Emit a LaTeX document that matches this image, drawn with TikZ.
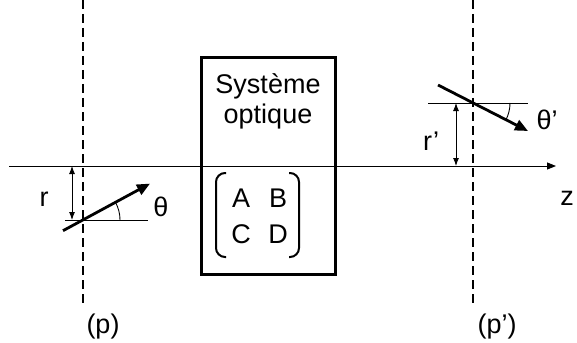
\documentclass[tikz,border=0pt]{standalone}
\usepackage{fontspec}
\setmainfont{Liberation Sans}
\usetikzlibrary{arrows.meta,calc}
\begin{document}
\begin{tikzpicture}[x=1pt,y=-1pt,
  lbl/.style={font=\fontsize{27}{30}\selectfont,inner sep=0pt},
  thin/.style={line width=0.9pt},
  plane/.style={line width=1.8pt,dash pattern=on 9pt off 5pt},
  ray/.style={line width=2.8pt,-{Triangle[length=13pt,width=11pt]}},
  dbl/.style={thin,{Latex[length=8pt,width=6pt]}-{Latex[length=8pt,width=6pt]}},
  paren/.style={line width=2pt,rounded corners=9pt}]
\useasboundingbox (0,0) rectangle (577,342);
% optical axis
\coordinate (a0) at (9,166);
\coordinate (a1) at (556,166);
\draw[thin,-{Triangle[length=9pt,width=7pt]}] (a0) -- (a1);
\node[lbl] (z) at (567,198) {z};
% planes
\coordinate (p0) at (83,0);
\coordinate (p1) at (83,306);
\coordinate (q0) at (473,0);
\coordinate (q1) at (473,306);
\draw[plane] (p0) -- (p1);
\draw[plane] (q0) -- (q1);
\node[lbl] (pl) at (103,327) {(p)};
\node[lbl] (ql) at (497,327) {(p')};
% optical system box
\node[draw,line width=3pt,minimum width=134pt,minimum height=217pt,inner sep=0pt] (box) at (268,166) {};
\node[lbl,align=center] (sys) at (268,101) {Système\\optique};
\node[lbl] (A) at (241,198) {A};
\node[lbl] (B) at (278,198) {B};
\node[lbl] (C) at (241,234) {C};
\node[lbl] (D) at (278,234) {D};
\draw[paren] (226,173) -- (216,173) -- (216,257) -- (226,257);
\draw[paren] (289,173) -- (299,173) -- (299,257) -- (289,257);
% input ray
\coordinate (P) at (83,220);
\coordinate (Pr) at (148,220);
\coordinate (Pa) at (72,166);
\coordinate (Pb) at (72,220);
\draw[thin] (65,220) -- (Pr);
\draw[dbl] (Pa) -- (Pb);
\coordinate (R0) at ($(P)+(-20,10.7)$);
\coordinate (R1) at ($(P)+(67,-36.4)$);
\draw[ray] (R0) -- (R1);
\draw[thin] ($(P)+(37,0)$) arc[start angle=0,end angle=-28.5,radius=37];
\node[lbl] (th) at (161,207) {θ};
\node[lbl] (r) at (44,199) {r};
% output ray
\coordinate (Q) at (473,103);
\coordinate (Qa) at (456,103);
\coordinate (Qb) at (456,166);
\draw[thin] (428,103) -- (528,103);
\draw[dbl] (Qa) -- (Qb);
\coordinate (S0) at ($(Q)+(-35,-18)$);
\coordinate (S1) at ($(Q)+(55,28)$);
\draw[ray] (S0) -- (S1);
\draw[thin] ($(Q)+(37,0)$) arc[start angle=0,end angle=27,radius=37];
\node[lbl] (thp) at (547,120) {θ'};
\node[lbl] (rp) at (431,141) {r'};
\end{tikzpicture}
\end{document}
